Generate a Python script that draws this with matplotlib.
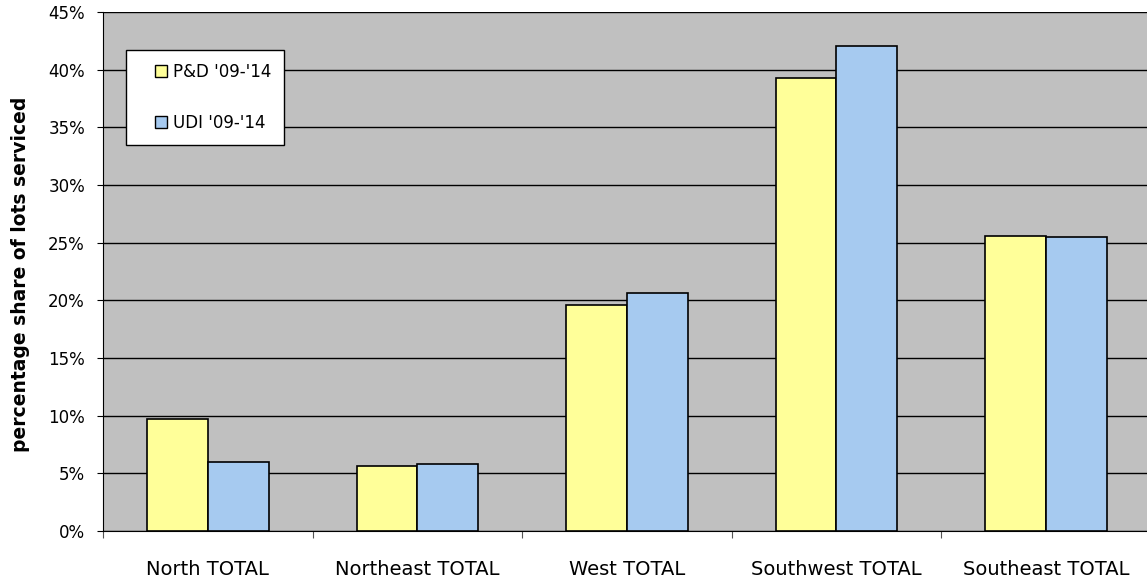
import numpy as np
import matplotlib
matplotlib.use("Agg")
import matplotlib.pyplot as plt
from matplotlib.lines import Line2D
from matplotlib.ticker import PercentFormatter

# ---------------------
# Data
# ---------------------
regions = ["North TOTAL", "Northeast TOTAL", "West TOTAL", "Southwest TOTAL", "Southeast TOTAL"]
pd_share = [9.7, 5.6, 19.6, 39.3, 25.6]
udi_share = [6.0, 5.8, 20.6, 42.1, 25.5]
series_labels = ["P&D '09-'14", "UDI '09-'14"]
series_colors = ["#FFFF99", "#A6CAF0"]

# ---------------------
# Figure
# ---------------------
plt.rcParams["font.family"] = ["DejaVu Sans"]
fig = plt.figure(figsize=(11.47, 5.85), dpi=100)
ax = fig.add_axes([0.0898, 0.0923, 0.9133, 0.887])
ax.set_facecolor("#C0C0C0")

x = np.arange(len(regions))
w = 0.29
ax.bar(x - w / 2, pd_share, w, color=series_colors[0], edgecolor="black", linewidth=1.2, zorder=3)
ax.bar(x + w / 2, udi_share, w, color=series_colors[1], edgecolor="black", linewidth=1.2, zorder=3)

ax.set_xlim(-0.5, len(regions) - 0.5)
ax.set_ylim(0, 45)
ax.set_yticks(np.arange(0, 46, 5))
ax.yaxis.set_major_formatter(PercentFormatter(decimals=0))
ax.grid(axis="y", color="black", linewidth=1.0, zorder=1)

# category labels centred, tick marks on the boundaries
ax.set_xticks(np.arange(-0.5, len(regions), 1.0))
ax.set_xticklabels([])
ax.set_xticks(x, minor=True)
ax.set_xticklabels(regions, minor=True, fontsize=14)
ax.tick_params(axis="x", which="minor", length=0, pad=21)
ax.tick_params(axis="x", which="major", length=5, direction="out", color="#555555")
ax.tick_params(axis="y", length=4.5, direction="out", labelsize=12, pad=8.5)

for side in ["top", "right"]:
    ax.spines[side].set_visible(False)

ax.set_ylabel("percentage share of lots serviced", fontsize=13.5, fontweight="bold")
ax.yaxis.set_label_coords(-0.0695, 0.494)

handles = [Line2D([], [], linestyle="none", marker="s", markersize=9,
                  markerfacecolor=c, markeredgecolor="black", markeredgewidth=1.0)
           for c in series_colors]
leg = ax.legend(handles, series_labels, loc="upper left", bbox_to_anchor=(0.022, 0.927),
                fontsize=12, frameon=True, fancybox=False, framealpha=1, edgecolor="black",
                handlelength=2.6, handletextpad=-0.6, labelspacing=1.95,
                borderpad=0.8, borderaxespad=0)
leg.get_frame().set_linewidth(1.0)
leg.set_zorder(5)

fig.savefig("out.png", dpi=100)
plt.close(fig)
